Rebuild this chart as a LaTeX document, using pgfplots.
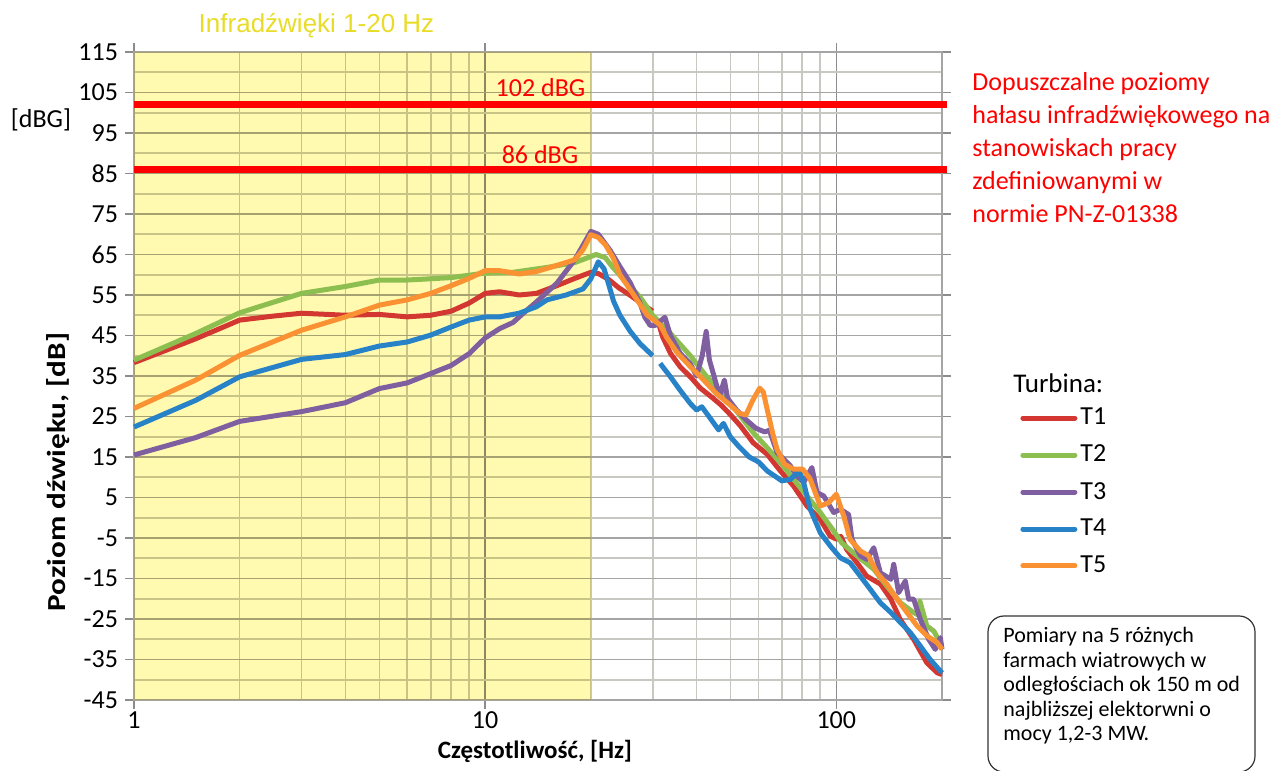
\documentclass[border=0pt]{standalone}
\usepackage{fontspec}
\setmainfont{Carlito}
\newfontfamily\arialfont{Liberation Sans}
\usepackage{graphicx}
\usepackage{pgfplots}
\pgfplotsset{compat=1.18}

\definecolor{cT1}{RGB}{210,55,50}
\definecolor{cT2}{RGB}{140,190,80}
\definecolor{cT3}{RGB}{128,95,160}
\definecolor{cT4}{RGB}{40,130,200}
\definecolor{cT5}{RGB}{250,145,50}
\definecolor{yfill}{RGB}{255,250,175}
\definecolor{ytitle}{RGB}{232,220,40}
\definecolor{gmaj}{RGB}{165,165,165}
\definecolor{gmin}{RGB}{200,200,195}
\definecolor{gdec}{RGB}{140,140,140}

\begin{document}
\begin{tikzpicture}
\path[use as bounding box] (-67pt,-35pt) rectangle (574.5pt,350pt);
\begin{axis}[
  at={(0pt,0pt)}, anchor=south west,
  scale only axis, width=404pt, height=324pt,
  xmode=log, xmin=1, xmax=200, ymin=-45, ymax=115,
  xtick={1,10,100}, xticklabels={1,10,100},
  minor xtick={2,3,4,5,6,7,8,9,20,30,40,50,60,70,80,90},
  ytick={-45,-35,-25,-15,-5,5,15,25,35,45,55,65,75,85,95,105,115},
  yticklabels={-45,-35,-25,-15,-5,5,15,25,35,45,55,65,75,85,95,105,115},
  minor ytick={-40,-30,-20,-10,0,10,20,30,40,50,60,70,80,90,100,110},
  grid=both,
  major x grid style={draw=gdec, line width=0.8pt},
  minor x grid style={draw=gmin, line width=0.8pt},
  major y grid style={draw=gmaj, line width=0.8pt},
  minor y grid style={draw=gmin, line width=0.8pt},
  axis line style={draw=gmaj, line width=0.8pt},
  tick align=outside, major tick length=4.5pt, minor tick length=0pt,
  tick style={draw=gdec, line width=0.8pt},
  tick label style={font=\fontsize{13}{15}\selectfont},
  xticklabel style={inner sep=1pt},
  clip=false,
  legend style={at={(axis description cs:1.0965,0.4556)}, anchor=north west,
    draw=none, fill=none, inner sep=0pt, row sep=5.6pt,
    font=\fontsize{13}{15}\selectfont, nodes={inner sep=1.5pt},
    /tikz/every even column/.append style={column sep=0pt}},
  legend cell align=left,
  legend image code/.code={\draw[#1, line cap=round] (0pt,0pt) -- (26pt,0pt);},
  every axis plot/.append style={line width=2.5pt, line join=round},
  unbounded coords=jump,
]
\addplot[fill=yfill, draw=none, blend mode=multiply, forget plot]
  coordinates {(1,-45) (20,-45) (20,115) (1,115) (1,-45)};
\addplot[red, line width=3.5pt, forget plot] coordinates {(1,102) (207,102)};
\addplot[red, line width=3.5pt, forget plot] coordinates {(1,86) (207,86)};

\addplot[cT1] coordinates {(1,38.3)(1.5,44.2)(2,48.8)(2.5,49.8)(3,50.5)(4,50)(5,50.2)(6,49.6)(7,50)(8,51)(9,53)(10,55.4)(11,55.8)(12.5,55)(14,55.4)(16,57.3)(18,59.1)(20,60.6)(21,60.3)(22.5,58.8)(24,56.8)(26,54.8)(28,52.8)(30,51)(30.5,nan)(31,48.8)(32,44.7)(33.7,40.6)(35.9,37.3)(38.4,34.8)(41,32)(44,29.9)(47,27.8)(50,25.4)(53.3,22.7)(58,18.5)(63.5,15.7)(69.4,11.5)(75.6,7.8)(82.5,2.9)(90,-0.4)(96,-4.5)(100,-5.3)(103,-4.6)(107,-7.8)(114.5,-11.1)(122,-14.4)(133.6,-16.4)(143,-20.1)(152,-25.1)(166,-30)(181,-35.8)(194,-38.3)(200,-38.7)};
\addlegendentry{T1}
\addplot[cT2] coordinates {(1,38.9)(1.5,45.5)(2,50.6)(3,55.4)(4,57.1)(5,58.7)(6,58.7)(7,59)(8,59.3)(10,60.4)(12,60.6)(15,61.8)(18,63)(20,64.5)(20.7,65)(22,64.2)(23,62)(25,58.5)(27.6,54.5)(30,50)(33.7,45.5)(38.4,40)(42.6,35)(47.7,30.5)(52.9,25.5)(58,21)(63.5,17.3)(69.4,13.6)(75.6,9.5)(82.5,5.4)(90,1.3)(97.6,-2.9)(103.6,-6.2)(114.5,-9.4)(127.8,-12.7)(139.4,-16.9)(152.4,-21)(166,-23.4)(171,-24)(173,-20.6)(181,-26.7)(189.6,-28)(200,-31.7)};
\addlegendentry{T2}
\addplot[cT3] coordinates {(1,15.5)(1.5,19.8)(2,23.8)(3,26.2)(4,28.4)(5,31.9)(6,33.3)(7,35.6)(8,37.6)(9,40.5)(10,44.4)(11,46.7)(12,48.2)(13,50.9)(14,53.3)(16,57.9)(18,63.7)(20,70.7)(21,70)(22.7,66)(24.2,62)(25.9,58)(27.6,53)(28.5,49.5)(29.5,47.5)(30.5,47.5)(31.5,48.5)(32.5,49.5)(33.7,45)(35.9,40.6)(38.4,38)(40,35)(41.5,40)(42.6,46)(43.5,39)(45,34.5)(46.5,30)(48,34)(49,29.5)(52,26.6)(55.5,24.1)(59,22.1)(62.5,21.2)(64.5,21.6)(67.8,16.1)(74,12.8)(77.3,10.3)(80.7,8.7)(85.2,12.4)(88.1,6.2)(92,5.4)(98.3,1.3)(102.7,2.1)(108.4,0.8)(110.8,-5.3)(117,-9.4)(122.3,-10.3)(127.8,-7.4)(133.5,-13.6)(143,-15.2)(145.7,-11.5)(150.5,-18.5)(157.2,-15.6)(160.7,-20.1)(166.1,-20.1)(173.5,-25.1)(183.2,-30)(191.4,-32.5)(197.8,-29.6)(200,-32.5)};
\addlegendentry{T3}
\addplot[cT4] coordinates {(1,22.4)(1.5,29)(2,34.8)(3,39.1)(4,40.3)(5,42.4)(6,43.4)(7,45.1)(8,47.1)(9,48.8)(10,49.6)(11,49.6)(12.5,50.5)(14,52.1)(15,53.8)(17,55)(19,56.5)(20,59)(21,63.2)(21.8,61.5)(22.5,57.5)(23.2,53.5)(24.2,50)(25.9,46)(27.6,43)(30,40)(30.5,nan)(31.5,38.1)(33.7,34.8)(35.9,31.5)(38.4,28.2)(40,26.6)(41.4,27.4)(43.8,24.5)(46.2,21.7)(47.7,23.3)(49.9,20)(52.9,17.5)(56.5,15)(60,13.8)(63.7,11.5)(70,9.1)(74,9.5)(78.5,11.5)(80.7,8.7)(84.3,2.1)(90,-3.7)(96.2,-7)(102.7,-9.9)(109.4,-11.1)(117,-14.4)(125,-17.7)(133.5,-21)(143,-23.4)(152.4,-25.9)(162.6,-28.4)(173.5,-31.7)(185,-35)(200,-38.3)};
\addlegendentry{T4}
\addplot[cT5] coordinates {(1,27)(1.5,34)(2,40.1)(3,46.3)(4,49.6)(5,52.5)(6,53.8)(7,55.4)(8,57.3)(9,59.1)(10,61)(11,61)(12.5,60.2)(14,60.8)(16,62.3)(18,63.7)(19,66.2)(20,69.9)(21,69.2)(22,67.4)(23.2,64)(24.2,60)(26.5,55)(28.9,50.1)(31.5,47.6)(32.9,44.5)(35.2,40.8)(38.4,37.3)(41.9,34)(45.5,30.7)(49.9,27.8)(52.9,25.8)(55.3,25.4)(57.8,29)(60.5,32)(62,31)(63,28.2)(65.9,20.8)(67.8,16.9)(71.3,13.2)(75.6,12)(80.2,12)(84.3,9.5)(90,2.9)(95,3.7)(100,5.8)(105,0.4)(109.4,-5.3)(117,-8.2)(123.6,-9.4)(130.6,-13.6)(139.4,-16.4)(148.9,-20.1)(159,-23.4)(169.8,-26.7)(181.3,-29.2)(193.6,-30.8)(200,-32.5)};
\addlegendentry{T5}
\end{axis}

% titles and labels
\node[text=ytitle, font=\arialfont\fontsize{13}{15}\selectfont] at (91.25pt,337pt) {Infradźwięki 1-20 Hz};
\node[font=\fontsize{13}{15}\selectfont] at (-46.5pt,290pt) {[dBG]};
\node[rotate=90, font=\bfseries\fontsize{13}{15}\selectfont] at (-38pt,114pt) {\scalebox{1.2}[1]{Poziom dźwięku, [dB]}};
\node[font=\bfseries\fontsize{12.5}{14}\selectfont, inner sep=0pt] at (200.5pt,-25.5pt) {Częstotliwość, [Hz]};
\node[text=red, font=\fontsize{13}{15}\selectfont] at (203.25pt,306pt) {102 dBG};
\node[text=red, font=\fontsize{13}{15}\selectfont] at (203pt,272.5pt) {86 dBG};
\node[anchor=north west, align=left, text=red, font=\fontsize{13}{16.5}\selectfont, inner sep=0pt] at (419pt,314pt)
  {Dopuszczalne poziomy\\hałasu infradźwiękowego na\\stanowiskach pracy\\zdefiniowanymi w\\normie PN-Z-01338};
\node[anchor=west, font=\fontsize{13.5}{15}\selectfont, inner sep=0pt] at (439.5pt,158.5pt) {Turbina:};
\draw[rounded corners=8pt, line width=0.6pt, draw=black!80] (427pt,-36pt) rectangle (560.5pt,42pt);
\node[anchor=north west, align=left, font=\fontsize{11}{12.25}\selectfont, inner sep=0pt] at (434.5pt,36.5pt)
  {Pomiary na 5 różnych\\farmach wiatrowych w\\odległościach ok 150 m od\\najbliższej elektorwni o\\mocy 1,2-3 MW.};
\end{tikzpicture}
\end{document}
